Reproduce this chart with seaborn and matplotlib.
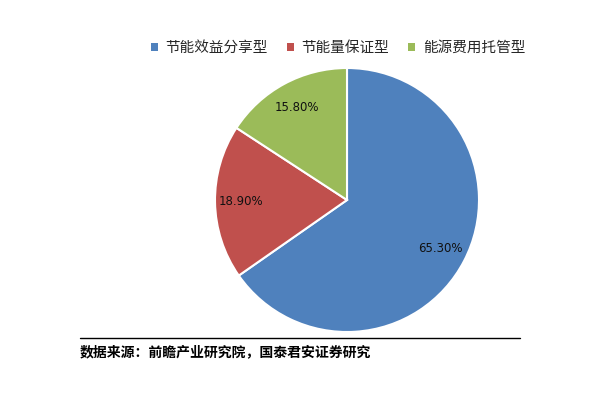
import matplotlib
matplotlib.use("Agg")
import matplotlib.pyplot as plt
from matplotlib.patches import Patch
from matplotlib.lines import Line2D
import seaborn as sns

categories = ["节能效益分享型", "节能量保证型", "能源费用托管型"]
shares = [65.3, 18.9, 15.8]
colors = ["#4F81BD", "#C0504D", "#9BBB59"]
source = "数据来源：前瞻产业研究院，国泰君安证券研究"

sns.set_theme(style="white")
plt.rcParams["font.family"] = ["Noto Sans CJK SC", "DejaVu Sans"]

fig = plt.figure(figsize=(6, 4), dpi=100)

# pie centred at about (347, 200) px, radius about 132 px
cx, cy, r = 347 / 600, 1 - 200 / 400, 132
ax = fig.add_axes([cx - r / 600, cy - r / 400, 2 * r / 600, 2 * r / 400])
wedges, texts, autotexts = ax.pie(
    shares,
    colors=colors,
    startangle=90,
    counterclock=False,
    autopct="%.2f%%",
    pctdistance=0.8,
    wedgeprops={"edgecolor": "white", "linewidth": 1.5},
    textprops={"fontsize": 8.5, "color": "#111111", "family": ["DejaVu Sans"]},
)
ax.set_aspect("equal")
ax.set_xlim(-1, 1)
ax.set_ylim(-1, 1)
ax.axis("off")

handles = [Patch(facecolor=c, edgecolor="none") for c in colors]
fig.legend(
    handles, categories,
    loc="center", bbox_to_anchor=(338 / 600, 1 - 48 / 400),
    ncol=3, frameon=False, fontsize=10.5,
    handlelength=0.5, handleheight=0.5, handletextpad=0.5, columnspacing=1.3,
)

fig.add_artist(Line2D([80 / 600, 520 / 600], [1 - 338 / 400] * 2,
                      color="black", linewidth=1))
fig.text(80 / 600, 1 - 352 / 400, source, ha="left", va="center",
         fontsize=10, fontweight="bold", color="black")

fig.savefig("out.png", dpi=100)
